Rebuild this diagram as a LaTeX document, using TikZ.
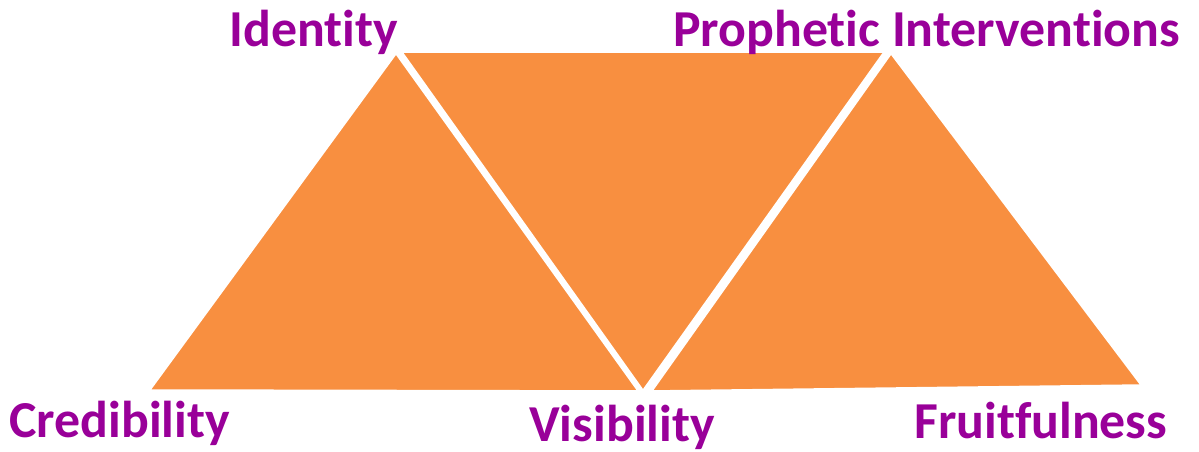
\documentclass[tikz,border=0pt]{standalone}
\usepackage{fontspec}
\setmainfont[Ligatures=NoCommon]{Carlito}
\definecolor{triorange}{RGB}{248,143,64}
\definecolor{lblpurple}{RGB}{153,0,153}
\begin{document}
\begin{tikzpicture}[x=0.02cm, y=-0.02cm,
    tri/.style={fill=triorange, draw=white, line width=2pt, line join=miter},
    lbl/.style={anchor=base west, inner sep=0pt, text=lblpurple, font=\fontsize{29.5}{32}\selectfont\bfseries}]
    \useasboundingbox (0,0) rectangle (1199,452);

    % Ecken
    \coordinate (idtop) at (396,52);
    \coordinate (credbl) at (148,391);
    \coordinate (visl) at (640,392);
    \coordinate (midtl) at (400,51);
    \coordinate (midtr) at (886,51);
    \coordinate (visr) at (643,392);
    \coordinate (protop) at (891,52);
    \coordinate (frul) at (650,392);
    \coordinate (frubr) at (1143,386);

    % Dreiecke
    \draw[tri] (idtop) -- (visl) -- (credbl) -- cycle;
    \draw[tri] (midtl) -- (midtr) -- (visr) -- cycle;
    \draw[tri] (protop) -- (frubr) -- (frul) -- cycle;

    % Beschriftungen
    \node[lbl] (identity) at (229,47) {Identity};
    \node[lbl] (prophetic) at (673,47) {Prophetic Interventions};
    \node[lbl] (credibility) at (9,437) {Credibility};
    \node[lbl] (visibility) at (529,441) {Visibility};
    \node[lbl] (fruitfulness) at (914,438) {Fruitfulness};
\end{tikzpicture}
\end{document}
